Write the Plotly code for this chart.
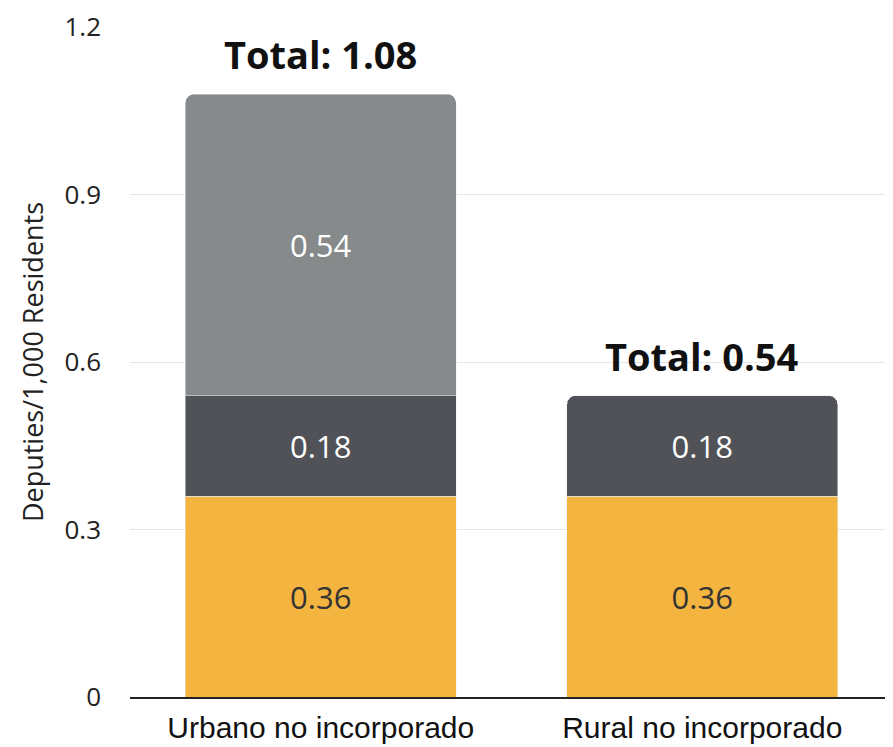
import plotly.graph_objects as go

categories = ["Urbano no incorporado", "Rural no incorporado"]
seg_bottom = [0.36, 0.36]
seg_middle = [0.18, 0.18]
seg_top = [0.54, None]
totals = [1.08, 0.54]
y_ticks = [0, 0.3, 0.6, 0.9, 1.2]
y_tick_labels = ["0", "0.3", "0.6", "0.9", "1.2"]

yellow = "#F3B53F"
dark = "#505257"
gray = "#878A8B"

fig = go.Figure()
fig.add_trace(go.Bar(x=categories, y=seg_bottom, marker_color=yellow,
                     text=[f"{v:.2f}" for v in seg_bottom], textposition="inside",
                     insidetextanchor="middle",
                     textfont=dict(family="Open Sans", size=31, color="#333333"),
                     hoverinfo="skip"))
fig.add_trace(go.Bar(x=categories, y=seg_middle, marker_color=dark,
                     text=[f"{v:.2f}" for v in seg_middle], textposition="inside",
                     insidetextanchor="middle",
                     textfont=dict(family="Open Sans", size=31, color="white"),
                     hoverinfo="skip"))
fig.add_trace(go.Bar(x=categories, y=seg_top, marker_color=gray,
                     text=[f"{v:.2f}" if v is not None else "" for v in seg_top],
                     textposition="inside", insidetextanchor="middle",
                     textfont=dict(family="Open Sans", size=31, color="white"),
                     hoverinfo="skip"))

for c, t in zip(categories, totals):
    fig.add_annotation(x=c, y=t, text=f"<b>Total: {t:.2f}</b>", showarrow=False,
                       yanchor="bottom", yshift=12,
                       font=dict(family="Open Sans", size=38, color="#111111"))

fig.update_layout(
    width=885, height=739,
    barmode="stack", bargap=0.29, barcornerradius=9,
    showlegend=False,
    plot_bgcolor="white", paper_bgcolor="white",
    margin=dict(l=122, r=0, t=19, b=50, autoexpand=False),
    uniformtext=dict(mode=None),
)
fig.update_xaxes(showline=True, linecolor="#222222", linewidth=2,
                 tickfont=dict(family="Liberation Sans", size=30, color="#111111"),
                 ticks="", ticklabelstandoff=3)
fig.update_yaxes(range=[0, 1.2], tickvals=y_ticks, ticktext=y_tick_labels,
                 showgrid=True, gridcolor="#E6E6E6", gridwidth=1, zeroline=False,
                 tickfont=dict(family="Open Sans", size=26, color="#222222"),
                 ticklabelstandoff=28,
                 title=dict(text="Deputies/1,000 Residents", standoff=12,
                            font=dict(family="Open Sans", size=27, color="#222222")))

fig.write_html("out.html")
